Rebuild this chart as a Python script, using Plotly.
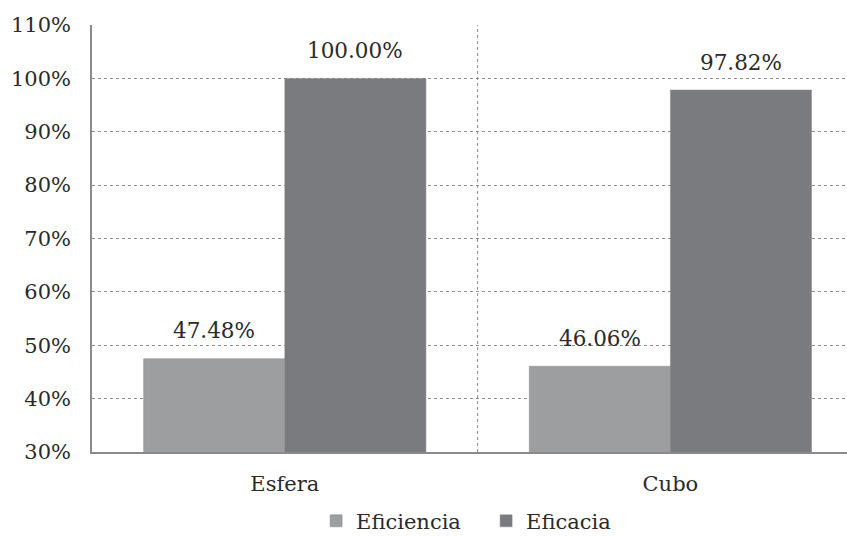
import plotly.graph_objects as go

categories = ["Esfera", "Cubo"]
eficiencia = [0.4748, 0.4606]
eficacia = [1.0000, 0.9782]
series_names = ["Eficiencia", "Eficacia"]
y_ticks = [0.3, 0.4, 0.5, 0.6, 0.7, 0.8, 0.9, 1.0, 1.1]

FONT = "DejaVu Serif, Liberation Serif, serif"
colors = ["#9c9ea0", "#797b7e"]

fig = go.Figure()
for name, vals, col in zip(series_names, [eficiencia, eficacia], colors):
    fig.add_trace(go.Bar(
        x=categories, y=vals, name=name,
        marker=dict(color=col, line=dict(color="#8a8b8d", width=0.5)),
        hoverinfo="skip",
    ))

# value labels above each bar
for vals, off in zip([eficiencia, eficacia], [-0.1831, 0.1831]):
    for j, v in enumerate(vals):
        fig.add_annotation(
            x=j + off, y=v, text=f"{v*100:.2f}%", showarrow=False,
            yshift=28, font=dict(family=FONT, size=21.5, color="#2a2a2a"),
            xref="x", yref="y",
        )

# dotted divider between the two groups
fig.add_shape(type="line", x0=0.5, x1=0.5, y0=0.3, y1=1.1,
              xref="x", yref="y", line=dict(color="#8c8c8c", width=1, dash="dot"),
              layer="below")

fig.update_layout(
    width=847, height=537,
    margin=dict(l=92, r=0, t=25, b=85, autoexpand=False),
    paper_bgcolor="white", plot_bgcolor="white",
    barmode="group", bargap=0.268, bargroupgap=0,
    font=dict(family=FONT, size=21, color="#2a2a2a"),
    legend=dict(orientation="h", x=0.522, xanchor="center",
                y=-0.114, yanchor="top",
                font=dict(family=FONT, size=21, color="#2a2a2a"),
                itemwidth=30, entrywidth=125, traceorder="normal"),
    xaxis=dict(range=[-0.5, 1.458], showline=True, linecolor="#8a8a8a", linewidth=1.5,
               showgrid=False, ticks="", ticklabelstandoff=12, fixedrange=True),
    yaxis=dict(range=[0.3, 1.1], tickvals=y_ticks, tickformat=".0%",
               showline=True, linecolor="#8a8a8a", linewidth=1.5,
               showgrid=True, gridcolor="#8c8c8c", griddash="dot", gridwidth=1,
               zeroline=False, ticks="", ticklabelstandoff=15),
)

fig.write_html("out.html")
